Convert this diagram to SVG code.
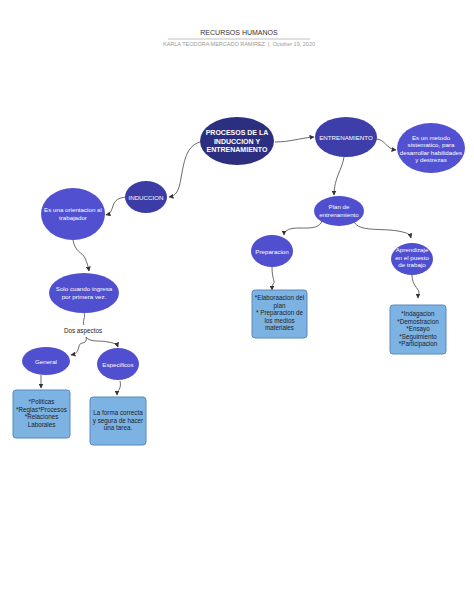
<svg xmlns="http://www.w3.org/2000/svg" width="474" height="613" viewBox="0 0 474 613">
<defs>
<marker id="ah" markerWidth="5" markerHeight="5" refX="4.5" refY="2.5" orient="auto" markerUnits="userSpaceOnUse">
<path d="M0,0 L5,2.5 L0,5 Z" fill="#333"/>
</marker>
<style>
.t{font-family:"Liberation Sans",Arial,sans-serif;text-anchor:middle}
.w{fill:#fff;font-size:6.2px}
.d{fill:#222;font-size:6.3px}
.b{fill:#7db3e3;stroke:#5b88bd;stroke-width:1}
.c{fill:none;stroke:#444;stroke-width:0.8;marker-end:url(#ah)}
</style>
</defs>
<rect width="474" height="613" fill="#fff"/>
<text class="t" x="239" y="35" font-size="7" fill="#333">RECURSOS HUMANOS</text>
<line x1="168" y1="39" x2="310" y2="39" stroke="#999" stroke-width="0.6"/>
<text class="t" x="239" y="45.5" font-size="5.5" fill="#999" xml:space="preserve">KARLA TEODORA MERCADO RAMIREZ  |  October 19, 2020</text>

<g id="connectors">
<path class="c" d="M275,142 C290,142 300,138 314,137"/>
<path class="c" d="M200,142 C186,146 184,162 181,178 C179,191 176,196 169,197"/>
<path class="c" d="M126,197 C118,198 115,200 113,206 C111,212 110,214 106,215"/>
<path class="c" d="M376,139 C385,139 386,149 396,150"/>
<path class="c" d="M344,157 C342,170 334,178 334,195"/>
<path class="c" d="M322,221 C318,232 300,226 290,229 C285,231 284,232 284,235"/>
<path class="c" d="M354,222 C360,232 380,228 398,231 C408,233 410,234 411,238"/>
<path class="c" d="M272,267 C272,280 276,282 273,284 C272,286 272,287 272,290"/>
<path class="c" d="M412,275 C412,285 418,288 419,292 C419,294 418,295 418,298"/>
<path class="c" d="M73,240 C75,252 82,252 85,258 C87,263 88,265 89,271"/>
<path fill="none" stroke="#444" stroke-width="0.8" d="M84,313 C86,318 82,320 84,325"/>
<path class="c" d="M86,337 C88,345 80,341 79,346 C78,352 76,354 71,355"/>
<path class="c" d="M86,337 C90,343 102,340 108,342 C114,343 117,344 118,347"/>
<path class="c" d="M41,375 L41,388"/>
<path class="c" d="M120,381 C122,389 117,390 117,395"/>
</g>

<g id="procesos">
<ellipse cx="237" cy="141" rx="37" ry="24" fill="#2c2f80"/>
<text class="t" x="237" y="135" fill="#fff" font-size="7" font-weight="bold">PROCESOS DE LA</text>
<text class="t" x="237" y="143.5" fill="#fff" font-size="7" font-weight="bold">INDUCCION Y</text>
<text class="t" x="237" y="152" fill="#fff" font-size="7" font-weight="bold">ENTRENAMIENTO</text>
</g>
<g id="entrenamiento">
<ellipse cx="346" cy="137" rx="31" ry="20" fill="#3e3eab"/>
<text class="t w" x="346" y="139.5">ENTRENAMIENTO</text>
</g>
<g id="metodo">
<ellipse cx="431" cy="148" rx="34" ry="25" fill="#5151d2"/>
<text class="t w" x="431" y="139.5">Es un metodo</text>
<text class="t w" x="431" y="147">sistematico, para</text>
<text class="t w" x="431" y="154.5">desarrollar habilidades</text>
<text class="t w" x="431" y="162">y destrezas</text>
</g>
<g id="induccion">
<ellipse cx="146" cy="197" rx="21" ry="16" fill="#3b3ca6"/>
<text class="t w" x="146" y="199.5">INDUCCION</text>
</g>
<g id="orientacion">
<ellipse cx="73" cy="214" rx="32" ry="26" fill="#5050d0"/>
<text class="t w" x="73" y="212">Es una orientacion al</text>
<text class="t w" x="73" y="220">trabajador</text>
</g>
<g id="plan">
<ellipse cx="339" cy="211" rx="25" ry="15" fill="#4f4fcf"/>
<text class="t w" x="339" y="208.5">Plan de</text>
<text class="t w" x="339" y="216.5">entrenamiento</text>
</g>
<g id="preparacion">
<ellipse cx="272" cy="251" rx="21" ry="16" fill="#4f4fcf"/>
<text class="t w" x="272" y="253.5">Preparacion</text>
</g>
<g id="aprendizaje">
<ellipse cx="412" cy="259" rx="21" ry="16" fill="#4f4fcf"/>
<text class="t w" x="412" y="252">Aprendizaje</text>
<text class="t w" x="412" y="259.5">en el puesto</text>
<text class="t w" x="412" y="267">de trabajo</text>
</g>
<g id="solo">
<ellipse cx="84" cy="293" rx="35" ry="20" fill="#4f4fcf"/>
<text class="t w" x="84" y="290.5">Solo cuando ingresa</text>
<text class="t w" x="84" y="298.5">por primera vez.</text>
</g>
<g id="dos-aspectos">
<text class="t d" x="83" y="333">Dos aspectos</text>
</g>
<g id="general">
<ellipse cx="46" cy="361" rx="24" ry="14" fill="#4f4fcf"/>
<text class="t w" x="46" y="363.5">General</text>
</g>
<g id="especificos">
<ellipse cx="118" cy="364" rx="21" ry="16" fill="#4f4fcf"/>
<text class="t w" x="118" y="366.5">Especificos</text>
</g>
<g id="box-elaboracion">
<rect class="b" x="252" y="290" width="55" height="48" rx="3"/>
<text class="t d" x="279.5" y="300">*Elaboraacion del</text>
<text class="t d" x="279.5" y="307.5">plan</text>
<text class="t d" x="279.5" y="315">* Preparacion de</text>
<text class="t d" x="279.5" y="322.5">los medios</text>
<text class="t d" x="279.5" y="330">materiales</text>
</g>
<g id="box-indagacion">
<rect class="b" x="390" y="305" width="56" height="49" rx="3"/>
<text class="t d" x="418" y="316">*Indagacion</text>
<text class="t d" x="418" y="323.5">*Demostracion</text>
<text class="t d" x="418" y="331">*Ensayo</text>
<text class="t d" x="418" y="338.5">*Seguimiento</text>
<text class="t d" x="418" y="346">*Participacion</text>
</g>
<g id="box-politicas">
<rect class="b" x="13" y="390" width="57" height="48" rx="3"/>
<text class="t d" x="41.5" y="404">*Politicas</text>
<text class="t d" x="41.5" y="411.5">*Reglas*Procesos</text>
<text class="t d" x="41.5" y="419">*Relaciones</text>
<text class="t d" x="41.5" y="426.5">Laborales</text>
</g>
<g id="box-forma">
<rect class="b" x="90" y="397" width="56" height="48" rx="3"/>
<text class="t d" x="118" y="415">La forma correcta</text>
<text class="t d" x="118" y="422.5">y segura de hacer</text>
<text class="t d" x="118" y="430">una tarea.</text>
</g>
</svg>
